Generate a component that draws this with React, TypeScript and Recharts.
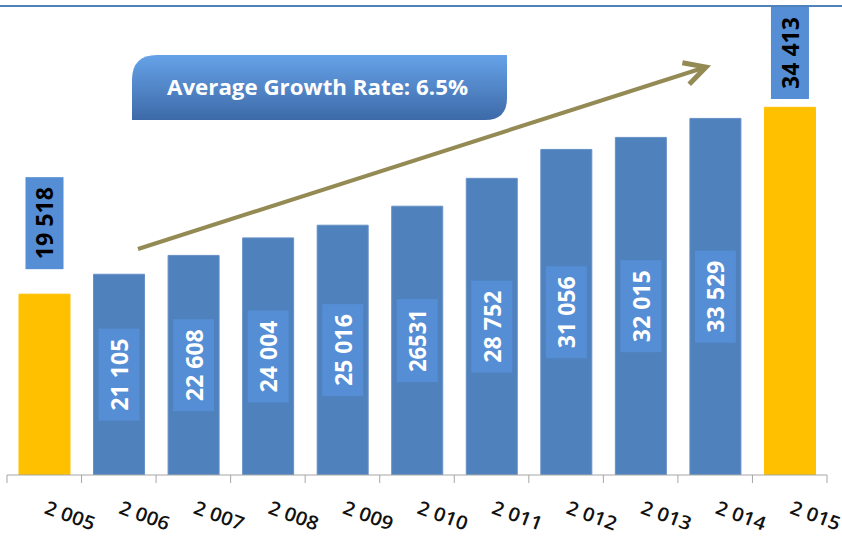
import React from 'react';
import { BarChart, Bar, XAxis, YAxis, Cell, LabelList } from 'recharts';

const years = ['2 005', '2 006', '2 007', '2 008', '2 009', '2 010', '2 011', '2 012', '2 013', '2 014', '2 015'];
const values = [19518, 21105, 22608, 24004, 25016, 26531, 28752, 31056, 32015, 33529, 34413];
const valueLabels = ['19 518', '21 105', '22 608', '24 004', '25 016', '26531', '28 752', '31 056', '32 015', '33 529', '34 413'];
const highlightYears = ['2 005', '2 015'];
const titleText = 'Average Growth Rate: 6.5%';

const data = years.map((y, i) => ({
  year: y,
  value: values[i],
  label: valueLabels[i],
  highlight: highlightYears.includes(y),
}));

const W = 842;
const H = 537;
const M = { top: 36, right: 15, left: 7, bottom: 0 };
const BAND = (W - M.left - M.right) / years.length;

const BLUE = '#4F81BD';
const YELLOW = '#FFC000';
const LABEL_BLUE = '#558ED5';
const FONT = '"Open Sans", "Liberation Sans", Arial, sans-serif';

const textLen = (s: string) => {
  let len = 0;
  for (const c of s) len += c === ' ' ? 9 : 12.6;
  return len;
};

const renderLabel = (props: any) => {
  const { x, y, width, height, value, index } = props;
  const d = data[index];
  const cx = Number(x) + Number(width) / 2;
  const len = textLen(String(value));
  const bh = len + 20;
  if (d && d.highlight) {
    const bw = 38;
    const top = Math.max(7, Number(y) - 25 - bh);
    const cy = top + bh / 2;
    return (
      <g>
        <rect x={cx - bw / 2} y={top} width={bw} height={bh} fill={LABEL_BLUE} />
        <text
          x={cx}
          y={cy}
          dy={9}
          transform={`rotate(-90, ${cx}, ${cy})`}
          textAnchor="middle"
          fontFamily={FONT}
          fontWeight="bold"
          fontSize={24}
          fill="#000"
          textLength={len}
          lengthAdjust="spacingAndGlyphs"
        >
          {value}
        </text>
      </g>
    );
  }
  const bw = 41;
  const cy = Number(y) + Number(height) / 2;
  return (
    <g>
      <rect x={cx - bw / 2} y={cy - bh / 2} width={bw} height={bh} fill={LABEL_BLUE} />
      <text
        x={cx}
        y={cy}
        dy={9}
        transform={`rotate(-90, ${cx}, ${cy})`}
        textAnchor="middle"
        fontFamily={FONT}
        fontWeight="bold"
        fontSize={24}
        fill="#fff"
        textLength={len}
        lengthAdjust="spacingAndGlyphs"
      >
        {value}
      </text>
    </g>
  );
};

const AxisTick = (props: any) => {
  const { x, payload, index } = props;
  const baseY = H - 62;
  const tx = Number(x) - 1;
  const ty = 513;
  const isLast = index === years.length - 1;
  return (
    <g>
      <line x1={x - BAND / 2} x2={x - BAND / 2} y1={baseY} y2={baseY + 8} stroke="#A6A6A6" strokeWidth={1} />
      {isLast && (
        <line x1={x + BAND / 2} x2={x + BAND / 2} y1={baseY} y2={baseY + 8} stroke="#A6A6A6" strokeWidth={1} />
      )}
      <text
        x={tx}
        y={ty}
        transform={`rotate(20, ${tx}, ${ty})`}
        textAnchor="start"
        fontFamily={FONT}
        fontWeight={600}
        fontSize={19}
        fill="#111"
        textLength={52}
        lengthAdjust="spacingAndGlyphs"
      >
        {payload.value}
      </text>
    </g>
  );
};

const Overlay = () => {
  const x0 = 132, y0 = 55, x1 = 507, y1 = 120, r1 = 25, r2 = 22;
  const boxPath = `M ${x0} ${y0 + r1} Q ${x0} ${y0} ${x0 + r1} ${y0} L ${x1} ${y0} L ${x1} ${y1 - r2} Q ${x1} ${y1} ${x1 - r2} ${y1} L ${x0} ${y1} Z`;
  const ax0 = 138, ay0 = 249, ax1 = 706, ay1 = 67;
  const ang = Math.atan2(ay1 - ay0, ax1 - ax0);
  const back = ang + Math.PI;
  const bl = 24, spread = (28 * Math.PI) / 180;
  const b1x = ax1 + bl * Math.cos(back - spread);
  const b1y = ay1 + bl * Math.sin(back - spread);
  const b2x = ax1 + bl * Math.cos(back + spread);
  const b2y = ay1 + bl * Math.sin(back + spread);
  return (
    <svg width={W} height={H} style={{ position: 'absolute', left: 0, top: 0, pointerEvents: 'none' }}>
      <defs>
        <linearGradient id="boxGrad" x1="0" y1="0" x2="0" y2="1">
          <stop offset="0%" stopColor="#66A2E8" />
          <stop offset="100%" stopColor="#3D6AA7" />
        </linearGradient>
      </defs>
      <line x1={ax0} y1={ay0} x2={ax1} y2={ay1} stroke="#948A54" strokeWidth={4} />
      <polyline
        points={`${b1x},${b1y} ${ax1},${ay1} ${b2x},${b2y}`}
        fill="none"
        stroke="#948A54"
        strokeWidth={5}
        strokeLinejoin="miter"
      />
      <path d={boxPath} fill="url(#boxGrad)" />
      <text
        x={317.5}
        y={95}
        textAnchor="middle"
        fontFamily='"Open Sans", sans-serif'
        fontWeight="bold"
        fontSize={21}
        fill="#fff"
        textLength={301}
        lengthAdjust="spacingAndGlyphs"
      >
        {titleText}
      </text>
    </svg>
  );
};

export default function App() {
  return (
    <div style={{ position: 'absolute', left: 0, top: 0, width: W, height: H, background: '#fff' }}>
      <div style={{ position: 'absolute', left: 0, top: 5, width: W, height: 2, background: BLUE }} />
      <BarChart width={W} height={H} data={data} margin={M}>
        <XAxis
          dataKey="year"
          height={62}
          interval={0}
          tickLine={false}
          axisLine={{ stroke: '#A6A6A6' }}
          tick={<AxisTick />}
        />
        <YAxis hide domain={[5100, 40100]} allowDataOverflow />
        <Bar dataKey="value" barSize={51} isAnimationActive={false} stroke="#6690C6" strokeWidth={1}>
          {data.map((d, i) => (
            <Cell key={i} fill={d.highlight ? YELLOW : BLUE} stroke={d.highlight ? YELLOW : '#6690C6'} />
          ))}
          <LabelList dataKey="label" content={renderLabel} />
        </Bar>
      </BarChart>
      <Overlay />
    </div>
  );
}
